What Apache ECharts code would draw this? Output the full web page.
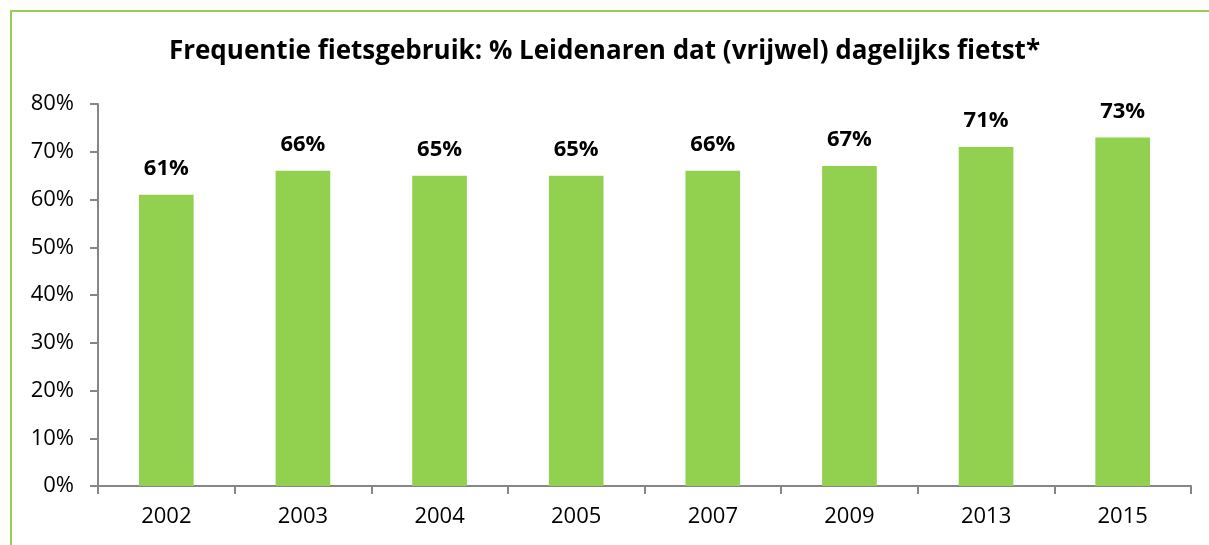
<!DOCTYPE html>
<html>
<head>
<meta charset="utf-8">
<script src="https://cdn.jsdelivr.net/npm/echarts@6/dist/echarts.min.js"></script>
<style>
  html, body { margin: 0; padding: 0; background: #fff; }
  #main { width: 1209px; height: 545px; }
</style>
</head>
<body>
<div id="main"></div>
<script>
// jaren en percentages
var years = ['2002', '2003', '2004', '2005', '2007', '2009', '2013', '2015'];
var dailyPct = [61, 66, 65, 65, 66, 67, 71, 73];

var chart = echarts.init(document.getElementById('main'));

chart.setOption({
  backgroundColor: '#ffffff',
  animation: false,
  title: {
    text: 'Frequentie fietsgebruik: % Leidenaren dat (vrijwel) dagelijks fietst*',
    left: 'center',
    top: 34,
    textStyle: {
      fontFamily: 'Open Sans',
      fontWeight: 'bold',
      fontSize: 26,
      color: '#000'
    }
  },
  graphic: [{
    type: 'rect',
    shape: { x: 11, y: 11, width: 1300, height: 600 },
    style: { fill: 'none', stroke: '#92D050', lineWidth: 2 }
  }],
  grid: {
    left: 98,
    right: 18,
    top: 104,
    bottom: 59,
    containLabel: false
  },
  xAxis: {
    type: 'category',
    data: years,
    axisLine: { lineStyle: { color: '#868686', width: 2 } },
    axisTick: { show: true, length: 8, alignWithLabel: false, lineStyle: { color: '#868686', width: 2 } },
    axisLabel: { color: '#000', fontSize: 22, fontFamily: 'Open Sans', margin: 20 }
  },
  yAxis: {
    type: 'value',
    min: 0,
    max: 80,
    interval: 10,
    axisLine: { show: true, lineStyle: { color: '#868686', width: 2 } },
    axisTick: { show: true, length: 8, inside: false, lineStyle: { color: '#868686', width: 2 } },
    splitLine: { show: false },
    axisLabel: {
      color: '#000',
      fontSize: 22,
      fontFamily: 'Open Sans',
      margin: 24,
      formatter: '{value}%'
    }
  },
  series: [{
    type: 'bar',
    data: dailyPct,
    barWidth: '40%',
    itemStyle: { color: '#92D050' },
    label: {
      show: true,
      position: 'top',
      distance: 15,
      formatter: '{c}%',
      color: '#000',
      fontWeight: 'bold',
      fontSize: 22,
      fontFamily: 'Open Sans'
    }
  }]
});
</script>
</body>
</html>
